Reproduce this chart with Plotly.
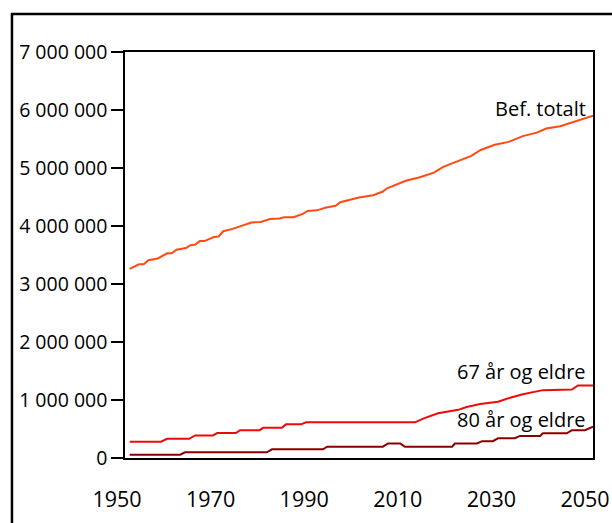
import plotly.graph_objects as go

# Bef. totalt
total_years = [1951, 1953, 1954, 1955, 1957, 1959, 1960, 1961, 1963, 1964, 1965, 1966, 1967,
               1969, 1970, 1971, 1973, 1975, 1977, 1979, 1981, 1983, 1984, 1986, 1988, 1989,
               1991, 1993, 1995, 1996, 1998, 2000, 2003, 2005, 2006, 2008, 2010, 2013, 2016,
               2018, 2021, 2024, 2026, 2029, 2032, 2035, 2038, 2040, 2043, 2046, 2049, 2050]
total_values = [3260000, 3340000, 3340000, 3410000, 3440000, 3530000, 3530000, 3590000, 3620000,
                3670000, 3680000, 3740000, 3740000, 3810000, 3820000, 3910000, 3950000, 4010000,
                4060000, 4070000, 4120000, 4130000, 4150000, 4150000, 4210000, 4260000, 4270000,
                4320000, 4350000, 4410000, 4450000, 4490000, 4530000, 4590000, 4650000, 4720000,
                4780000, 4840000, 4920000, 5020000, 5110000, 5210000, 5310000, 5400000, 5450000,
                5550000, 5610000, 5680000, 5720000, 5800000, 5880000, 5900000]

# 67 år og eldre
old67_years = [1951, 1957.7, 1959, 1963.7, 1965, 1968.8, 1969.7, 1973.7, 1974.6, 1978.8, 1979.5,
               1983.5, 1984.4, 1987.6, 1988.7, 2012, 2013.7, 2016.9, 2021.2, 2023, 2025.9,
               2029.7, 2032.3, 2035, 2039.3, 2045.5, 2046.8, 2050]
old67_values = [280000, 280000, 330000, 330000, 390000, 390000, 430000, 430000, 480000, 480000,
                520000, 520000, 580000, 580000, 615000, 615000, 680000, 770000, 830000, 880000,
                930000, 970000, 1040000, 1100000, 1170000, 1180000, 1250000, 1250000]

# 80 år og eldre
old80_years = [1951, 1961.8, 1962.8, 1980.3, 1981.4, 1992.3, 1993.2, 2005.1, 2006.2, 2008.8,
               2009.8, 2019.9, 2020.5, 2025.2, 2026.3, 2028.6, 2029.7, 2033.3, 2034.4, 2038.7,
               2039.3, 2044.4, 2045.5, 2048.3, 2050]
old80_values = [57000, 57000, 98000, 98000, 150000, 150000, 195000, 195000, 250000, 250000,
                195000, 195000, 250000, 250000, 290000, 290000, 340000, 340000, 380000, 380000,
                425000, 425000, 480000, 480000, 540000]

x_ticks = [1950, 1970, 1990, 2010, 2030, 2050]
y_ticks = [0, 1000000, 2000000, 3000000, 4000000, 5000000, 6000000, 7000000]

font_family = "Open Sans, Lato, DejaVu Sans, sans-serif"

fig = go.Figure()

fig.add_trace(go.Scatter(
    x=total_years, y=total_values,
    mode='lines', name='Bef. totalt',
    line=dict(color='#FF4A12', width=2)
))
fig.add_trace(go.Scatter(
    x=old67_years, y=old67_values,
    mode='lines', name='67 år og eldre',
    line=dict(color='#EE0A0A', width=2)
))
fig.add_trace(go.Scatter(
    x=old80_years, y=old80_values,
    mode='lines', name='80 år og eldre',
    line=dict(color='#8A0000', width=2)
))

# series labels at the right end of each line
labels = [
    ("Bef. totalt", total_values[-1] + 130000),
    ("67 år og eldre", old67_values[-1] + 240000),
    ("80 år og eldre", old80_values[-1] + 130000),
]
for text, y in labels:
    fig.add_annotation(
        x=2049, y=y, xref='x', yref='y',
        text=text, showarrow=False,
        xanchor='right', yanchor='middle',
        font=dict(size=20, color='black', family=font_family)
    )

# outer frame
fig.add_shape(
    type='rect', xref='paper', yref='paper',
    x0=-0.2415, y0=-0.4, x1=1.3, y1=1.0936,
    line=dict(color='black', width=2.5),
    layer='above'
)

fig.update_layout(
    width=612,
    height=523,
    margin=dict(l=125, r=19, t=52, b=65),
    paper_bgcolor='white',
    plot_bgcolor='white',
    showlegend=False,
    separators='. ',
    font=dict(family=font_family, color='black'),
    xaxis=dict(
        range=[1950, 2050],
        tickvals=x_ticks,
        ticks='',
        showgrid=False,
        zeroline=False,
        showline=True,
        linecolor='black',
        linewidth=1.5,
        mirror=True,
        automargin=False,
        ticklabelshift=-8,
        ticklabelstandoff=21,
        tickfont=dict(size=21.5, color='black')
    ),
    yaxis=dict(
        range=[0, 7000000],
        tickvals=y_ticks,
        tickformat=',d',
        ticks='outside',
        ticklen=12,
        tickwidth=1.5,
        tickcolor='black',
        showgrid=False,
        zeroline=False,
        showline=True,
        linecolor='black',
        linewidth=1.5,
        mirror=True,
        automargin=False,
        tickfont=dict(size=19.5, color='black')
    )
)

# drop the default 8px page margin so the figure sits at the window's corner
fig.write_html(
    "out.html",
    config={'displayModeBar': False},
    post_script="document.body.style.margin = '0';"
)
